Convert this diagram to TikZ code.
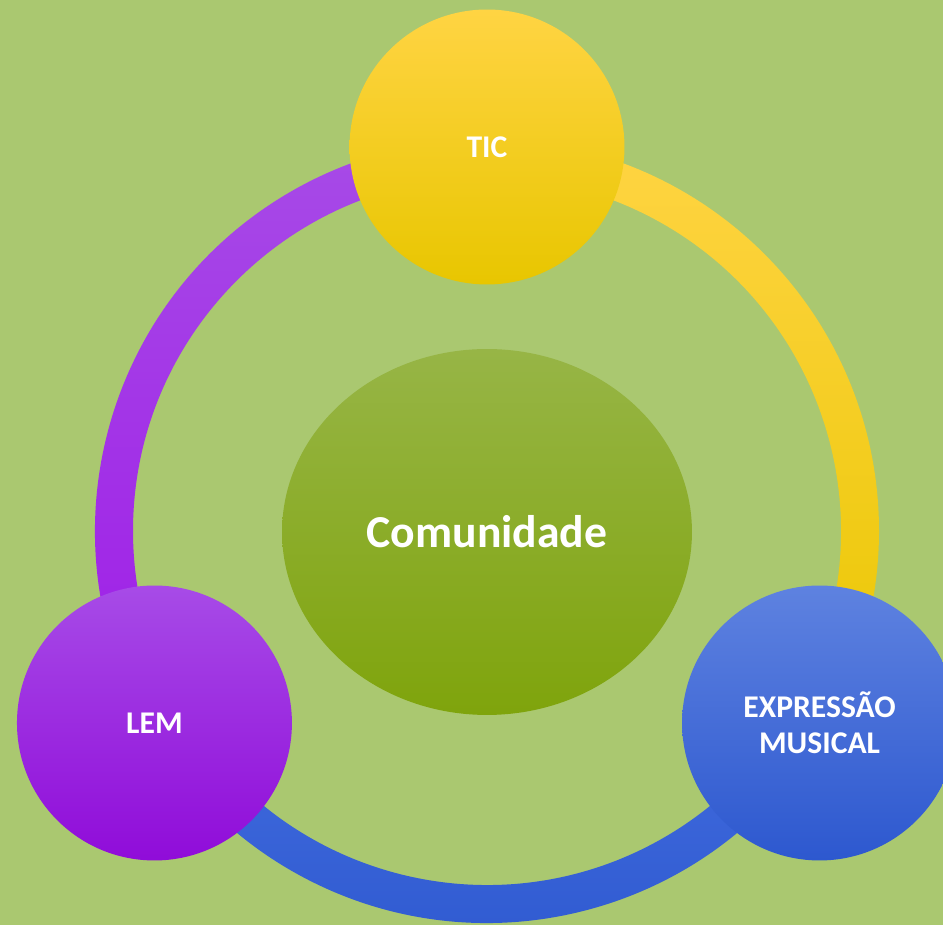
\documentclass[tikz,border=0pt]{standalone}
\usepackage{fontspec}
\setmainfont{Carlito}
\usetikzlibrary{calc,shapes.geometric}

\definecolor{bgGreen}{HTML}{AAC870}
\definecolor{ticTop}{HTML}{FFD443}
\definecolor{ticMid}{HTML}{FFD700}
\definecolor{ticBot}{HTML}{E8C600}
\definecolor{lemTop}{HTML}{A74BE7}
\definecolor{lemMid}{HTML}{A01EE8}
\definecolor{lemBot}{HTML}{900CD9}
\definecolor{expTop}{HTML}{5E82E0}
\definecolor{expMid}{HTML}{426CDE}
\definecolor{expBot}{HTML}{2D58CF}
\definecolor{comTop}{HTML}{97B546}
\definecolor{comMid}{HTML}{8BB11E}
\definecolor{comBot}{HTML}{7FA40C}

\tikzset{
	bubble/.style={circle, minimum size=5.5cm, inner sep=0pt, text=white, align=center,
		font=\fontsize{18}{20.5}\selectfont\bfseries},
	center/.style={ellipse, minimum width=8.2cm, minimum height=7.32cm, inner sep=0pt,
		text=white, font=\fontsize{26}{31}\selectfont\bfseries,
		top color=comTop, middle color=comMid, bottom color=comBot}
}

\begin{document}
\begin{tikzpicture}[x=0.02cm, y=0.02cm]
		%%%%% START %%%%%
		
		\useasboundingbox (0, 0) rectangle (943, 925);
		\clip (0, 0) rectangle (943, 925);
		\fill[bgGreen] (0, 0) rectangle (943, 925);
		
		\coordinate (ring) at (487, 394);
		
		% ring pieces
		\begin{scope}[shift={(ring)}]
			\shade[top color=ticTop, bottom color=ticBot!95!ticMid] (90:392) arc[start angle=90, end angle=-30, radius=392]
				-- (-30:354) arc[start angle=-30, end angle=90, radius=354] -- cycle;
			\shade[top color=expMid, bottom color=expBot] (-30:392) arc[start angle=-30, end angle=-150, radius=392]
				-- (-150:354) arc[start angle=-150, end angle=-30, radius=354] -- cycle;
			\shade[top color=lemTop, bottom color=lemMid!90!lemBot] (-150:392) arc[start angle=210, end angle=90, radius=392]
				-- (90:354) arc[start angle=90, end angle=210, radius=354] -- cycle;
		\end{scope}
		
		\node[center] (com) at (487, 393) {Comunidade};
		
		\node[bubble, top color=ticTop, middle color=ticMid, bottom color=ticBot] (tic) at ($(ring)+(90:384)$) {TIC};
		\node[bubble, top color=lemTop, middle color=lemMid, bottom color=lemBot] (lem) at ($(ring)+(210:384)$) {LEM};
		\node[bubble, top color=expTop, middle color=expMid, bottom color=expBot] (exp) at ($(ring)+(-30:384)$) {EXPRESSÃO\\MUSICAL};
		
		%%%%% END %%%%%
	\end{tikzpicture}
\end{document}
